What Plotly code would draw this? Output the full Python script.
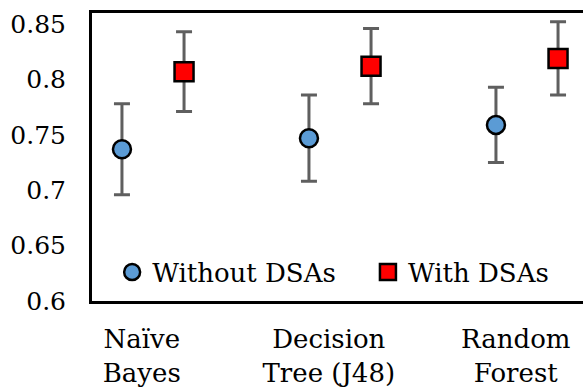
import plotly.graph_objects as go

# Classifier accuracy with and without DSAs (mean and error)
classifiers = ["Naïve<br>Bayes", "Decision<br>Tree (J48)", "Random<br>Forest"]
without_dsas = [0.737, 0.747, 0.759]
without_err = [0.041, 0.039, 0.034]
with_dsas = [0.807, 0.812, 0.819]
with_err = [0.036, 0.034, 0.033]
y_ticks = [0.6, 0.65, 0.7, 0.75, 0.8, 0.85]

FONT = "DejaVu Serif"
pos = [1, 2, 3]
pair_offset = 0.166
label_shift = -0.06

fig = go.Figure()
fig.add_trace(go.Scatter(
    x=[p - pair_offset for p in pos], y=without_dsas,
    mode="markers", name="Without DSAs", legend="legend",
    marker=dict(symbol="circle", size=18, color="#5B9BD5",
                line=dict(color="black", width=2.5)),
    error_y=dict(type="data", array=without_err, visible=True,
                 color="#5f5f5f", thickness=3, width=8),
))
fig.add_trace(go.Scatter(
    x=[p + pair_offset for p in pos], y=with_dsas,
    mode="markers", name="With DSAs", legend="legend2",
    marker=dict(symbol="square", size=19, color="#FF0000",
                line=dict(color="black", width=2.5)),
    error_y=dict(type="data", array=with_err, visible=True,
                 color="#5f5f5f", thickness=3, width=8),
))

legend_style = dict(
    orientation="h", xanchor="left", y=0.1, yanchor="middle",
    bgcolor="rgba(0,0,0,0)", font=dict(family=FONT, size=26, color="black"),
    itemsizing="trace",
)

fig.update_layout(
    width=583, height=387,
    margin=dict(l=92, r=0, t=13, b=86),
    paper_bgcolor="white", plot_bgcolor="white",
    font=dict(family=FONT, size=26, color="black"),
    showlegend=True,
    legend=dict(x=0.041, **legend_style),
    legend2=dict(x=0.562, **legend_style),
    xaxis=dict(
        range=[1 - 61 / 187, 3 + 56 / 187],
        tickvals=[p + label_shift for p in pos], ticktext=classifiers,
        tickfont=dict(family=FONT, size=26, color="black"),
        showgrid=False, zeroline=False,
        showline=True, linecolor="black", linewidth=3, mirror=True,
        ticks="", ticklabelstandoff=13,
    ),
    yaxis=dict(
        range=[0.6, 0.86], tickvals=y_ticks,
        ticktext=[f"{v:g}" for v in y_ticks],
        tickfont=dict(family=FONT, size=25, color="black"),
        showgrid=False, zeroline=False,
        showline=True, linecolor="black", linewidth=3, mirror=False,
        ticks="", ticklabelstandoff=18,
    ),
)

fig.write_html("out.html")
